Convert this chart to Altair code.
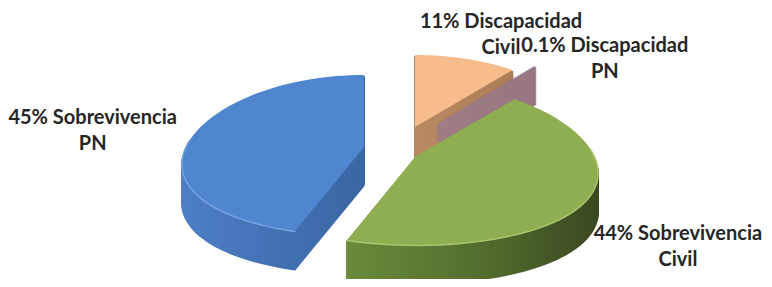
import altair as alt
import pandas as pd

# ---- data ----
categories = ["Discapacidad Civil", "Discapacidad PN", "Sobrevivencia Civil", "Sobrevivencia PN"]
values = [11, 0.1, 44, 45]

# ---- styles ----
top_colors = ["#f6bc8c", "#8064a2", "#8fad51", "#4f86cf"]
rim_colors = ["#f9cfa9", "#9a84b8", "#a9c56f", "#76a3e0"]
side_stops = {
    "Discapacidad Civil": ["#b98961", "#ad7d55"],
    "Discapacidad PN": ["#9d7d85", "#967680"],
    "Sobrevivencia Civil": ["#6b8a3b", "#55702e", "#3a4820"],
    "Sobrevivencia PN": ["#4d7fc6", "#4272b4", "#3b66a4"],
}
text_color = "#262626"

# ---- layout (pixel units of the 772x287 page) ----
CX, CY = 395, 150          # pie centre before explosion
R = 178                    # horizontal radius
A, B = 80.7, 8.7           # vertical radius terms (perspective tilt)
P = 0.21                   # perspective narrowing toward the back
DEPTH, STEP = 38, 2        # thickness of the 3D pie
N = 60                     # arc resolution
explode_dx = [20, 42, 21, -31]     # explosion shift of each slice
explode_dy = [-23, -27, 6, -3]
label_kx = [1.76, 1.844, 1.818, 1.72]
label_ky = [1.69, 1.60, 2.354, 1.52]

df = pd.DataFrame({
    "cat": categories,
    "value": values,
    "edx": explode_dx,
    "edy": explode_dy,
    "lkx": label_kx,
    "lky": label_ky,
    "ord": list(range(len(categories))),
})

xs = alt.Scale(domain=[8, 764], nice=False, zero=False)
ys = alt.Scale(domain=[8, 279], nice=False, zero=False, reverse=True)

base = (
    alt.Chart(df)
    .transform_joinaggregate(total="sum(value)")
    .transform_window(cum="sum(value)", sort=[alt.SortField("ord")], frame=[None, 0])
    .transform_calculate(a0="2*PI*(datum.cum - datum.value)/datum.total")
    .transform_calculate(a1="2*PI*datum.cum/datum.total")
    .transform_calculate(mid="(datum.a0 + datum.a1)/2")
    .transform_calculate(ox=f"{CX} + datum.edx")
    .transform_calculate(oy=f"{CY} + datum.edy")
)

poly = (
    base.transform_calculate(i=f"sequence(0, {N + 3})")
    .transform_flatten(["i"])
    .transform_calculate(t=f"datum.a0 + (datum.a1 - datum.a0)*clamp(datum.i - 1, 0, {N})/{N}")
    .transform_calculate(apex=f"datum.i == 0 || datum.i == {N + 2}")
    .transform_calculate(px=f"datum.apex ? datum.ox : datum.ox + {R}*sin(datum.t)/(1 + {P}*cos(datum.t))")
    .transform_calculate(py=f"datum.apex ? datum.oy : datum.oy - ({A}*cos(datum.t) - {B}*pow(cos(datum.t), 2))")
)

sides_base = (
    poly.transform_calculate(k=f"sequence({STEP}, {DEPTH + 1}, {STEP})")
    .transform_flatten(["k"])
    .transform_calculate(pyk="datum.py + datum.k")
)


def grad(cols):
    n = len(cols)
    return alt.Gradient(
        gradient="linear",
        stops=[alt.GradientStop(color=c, offset=j / (n - 1)) for j, c in enumerate(cols)],
        x1=0, x2=1, y1=0, y2=0,
    )


side_layers = []
for cat in ["Discapacidad Civil", "Discapacidad PN", "Sobrevivencia PN", "Sobrevivencia Civil"]:
    g = grad(side_stops[cat])
    side_layers.append(
        sides_base.transform_filter(alt.datum.cat == cat)
        .mark_line(filled=True, fill=g, stroke=g, strokeWidth=2, strokeJoin="round")
        .encode(
            x=alt.X("px:Q", scale=xs, axis=None),
            y=alt.Y("pyk:Q", scale=ys, axis=None),
            order=alt.Order("i:Q"),
            detail=["cat:N", "k:Q"],
        )
    )

tops = poly.mark_line(filled=True, strokeWidth=0).encode(
    x=alt.X("px:Q", scale=xs, axis=None),
    y=alt.Y("py:Q", scale=ys, axis=None),
    color=alt.Color("cat:N", scale=alt.Scale(domain=categories, range=top_colors), legend=None),
    order=alt.Order("i:Q"),
)

# light bevel along the front edge of each top face
rims = (
    poly.transform_filter(f"!datum.apex && cos(datum.t) < 0.1")
    .mark_line(strokeWidth=1.5, strokeCap="round")
    .encode(
        x=alt.X("px:Q", scale=xs, axis=None),
        y=alt.Y("py:Q", scale=ys, axis=None),
        color=alt.Color("cat:N", scale=alt.Scale(domain=categories, range=rim_colors), legend=None),
        order=alt.Order("i:Q"),
    )
)

labels = (
    base.transform_calculate(lx=f"{CX} + datum.lkx*{R}*sin(datum.mid)")
    .transform_calculate(ly=f"{CY} - datum.lky*({A}*cos(datum.mid) - {B}*pow(cos(datum.mid), 2))")
    .transform_calculate(label="datum.value + '% ' + replace(datum.cat, ' ', '\\n')")
    .mark_text(
        font="Lato", fontSize=20, fontWeight="bold", color=text_color,
        lineBreak="\n", lineHeight=26, align="center", baseline="middle", dy=-13,
    )
    .encode(
        x=alt.X("lx:Q", scale=xs, axis=None),
        y=alt.Y("ly:Q", scale=ys, axis=None),
        text="label:N",
    )
)

chart = (
    alt.layer(*side_layers, tops, rims, labels)
    .resolve_scale(color="independent")
    .properties(width=756, height=271, padding=0, autosize="none", background="white")
    .configure_view(stroke=None)
)

chart.save("out.html", embed_options={"renderer": "svg", "actions": False})
